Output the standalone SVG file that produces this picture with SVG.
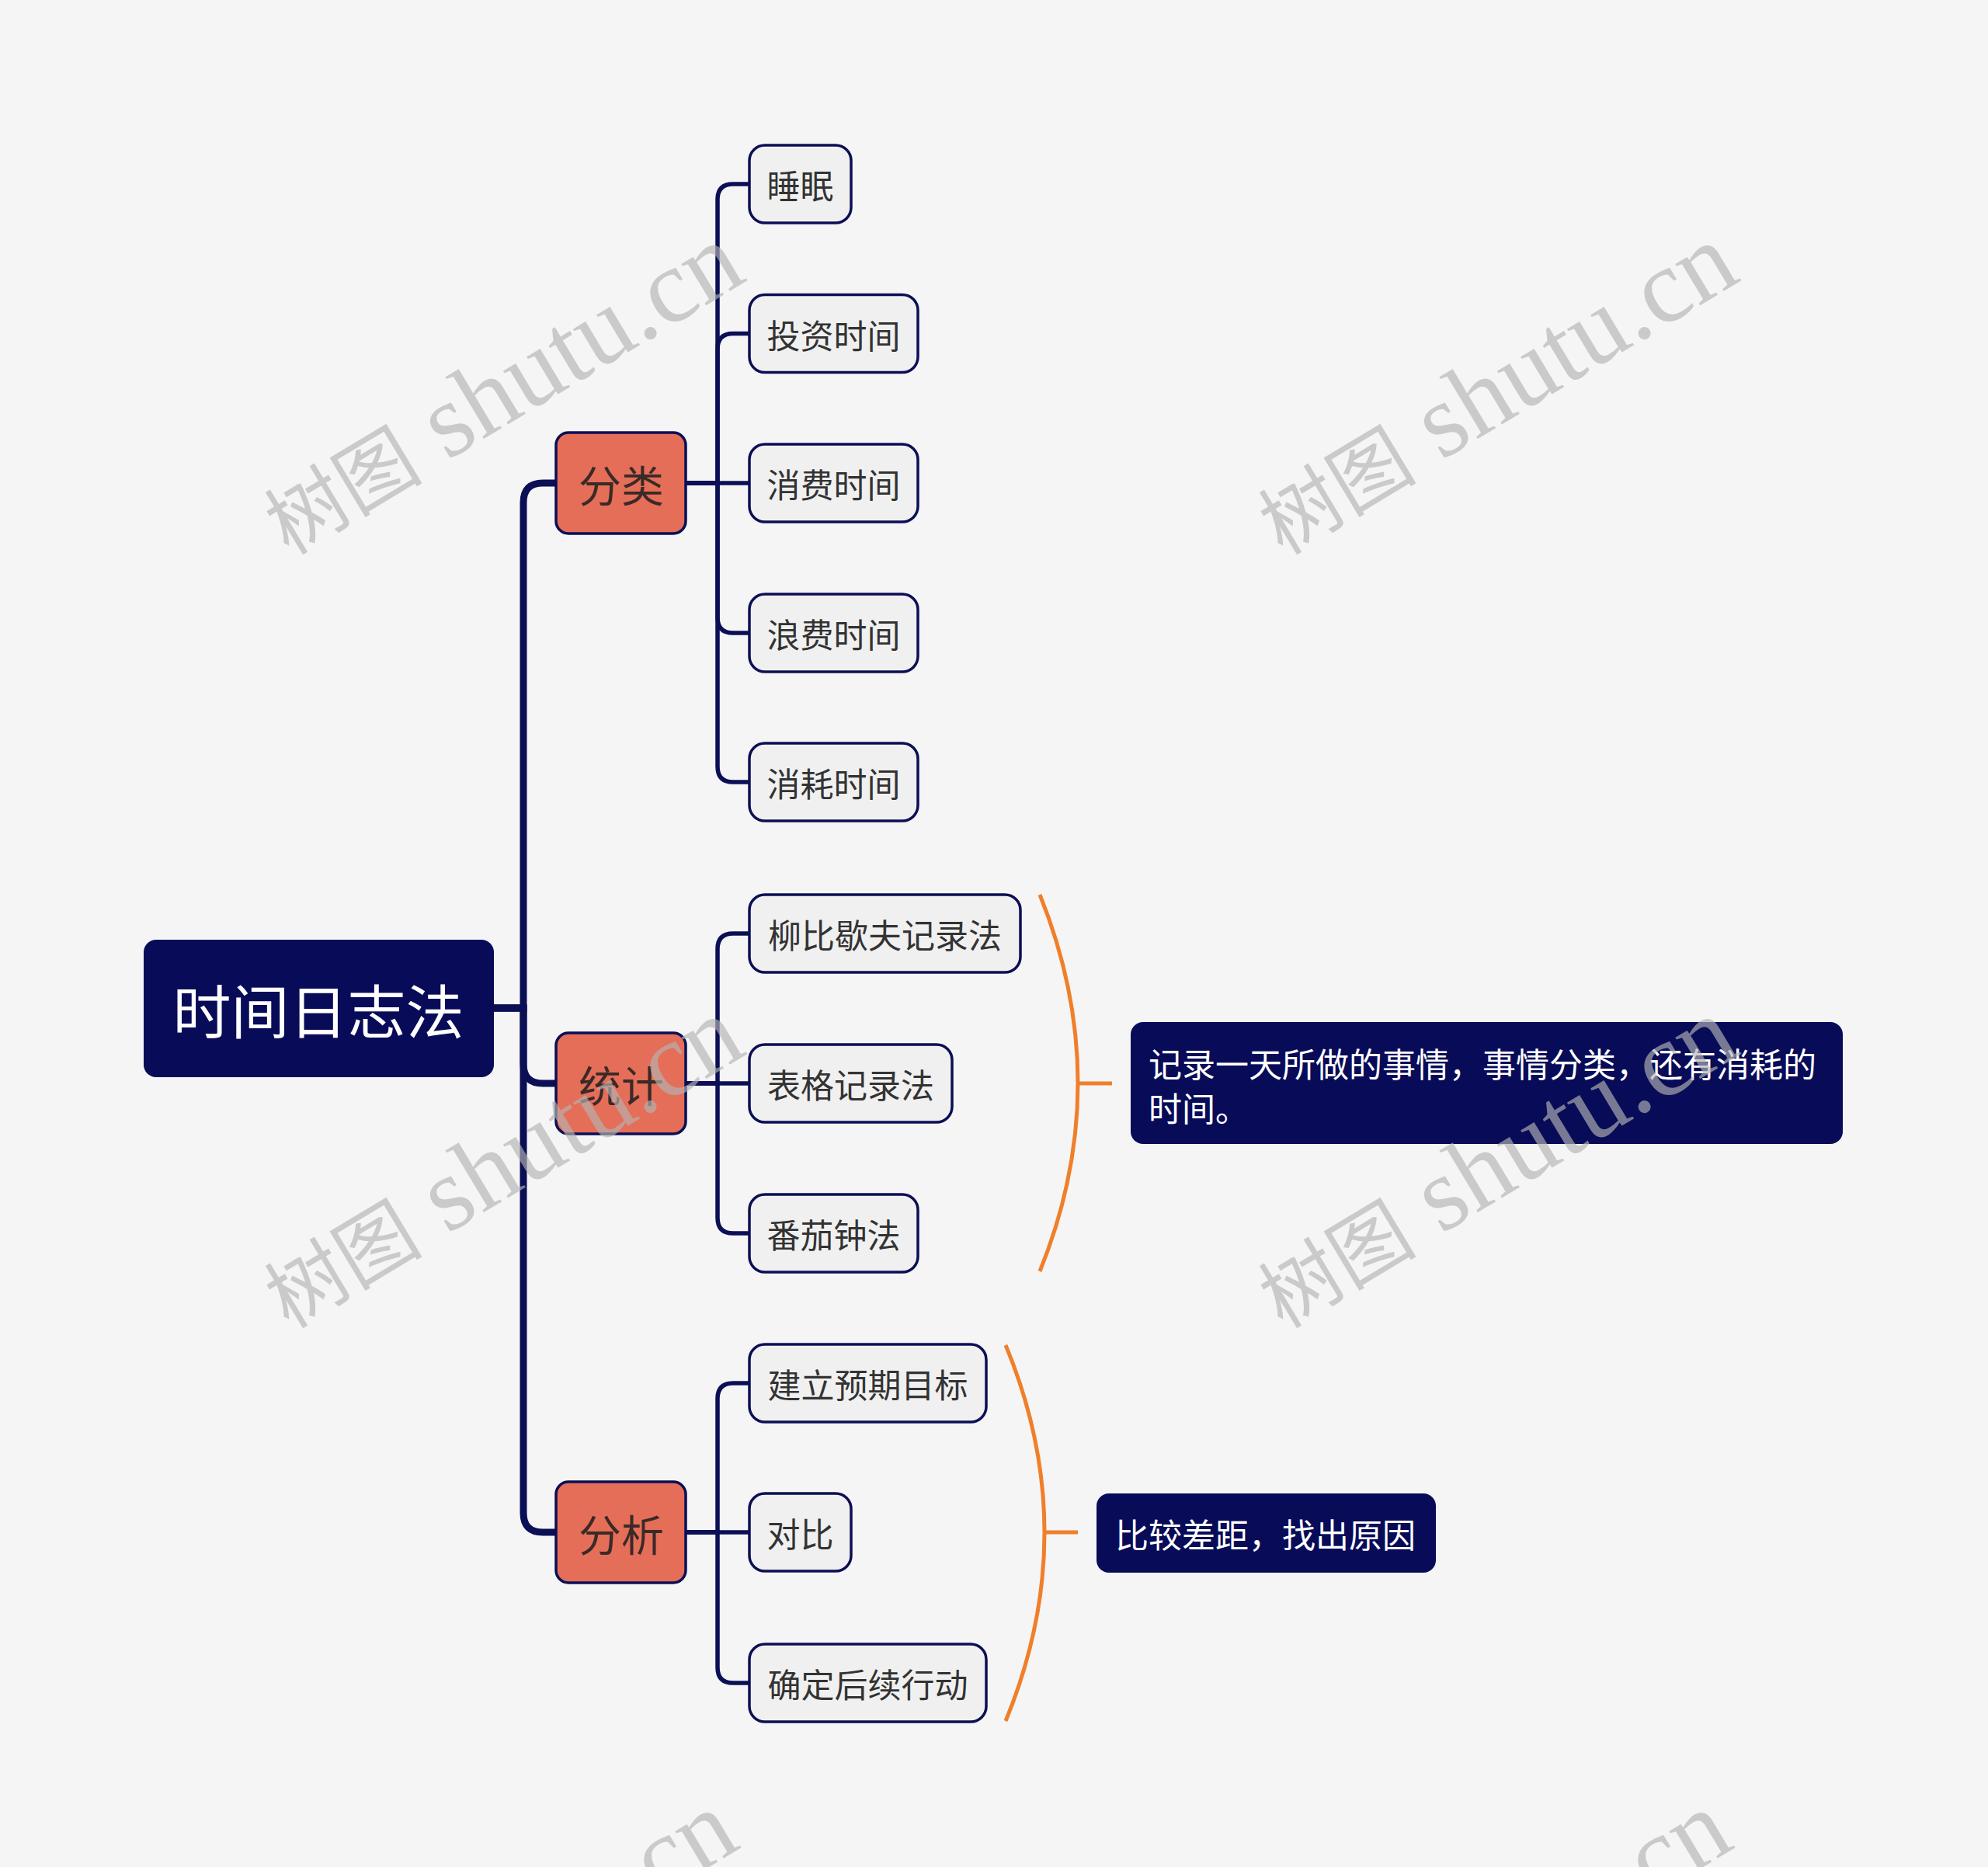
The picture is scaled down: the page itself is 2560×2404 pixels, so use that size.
<svg xmlns="http://www.w3.org/2000/svg" width="2560" height="2404" viewBox="0 0 2560 2404">
<style>
text{font-family:"Noto Sans CJK SC","Noto Sans",sans-serif;dominant-baseline:central}
.root rect{fill:#080C58}
.root text{fill:#fff;font-size:75px;text-anchor:middle}
.l1 rect{fill:#E56E58;stroke:#0B0F55;stroke-width:3.5}
.l1 text{fill:#3A2A28;font-size:55px;text-anchor:middle}
.l2 rect{fill:#F0F0F0;stroke:#0B0F55;stroke-width:3.5}
.l2 text{fill:#333;font-size:43px;text-anchor:middle}
.sum rect{fill:#080C58}
.sum text{fill:#fff;font-size:43px}
.main{fill:none;stroke:#0B0F55;stroke-width:9}
.sub{fill:none;stroke:#0B0F55;stroke-width:5.5}
.brace{fill:none;stroke:#F07F2A;stroke-width:5}
.wm text{font-family:"Liberation Serif","Noto Sans CJK SC",serif;font-size:135px;fill:#b4b4b4;opacity:.65;text-anchor:middle;dominant-baseline:auto}
.wm .c{font-family:"Noto Sans CJK SC",serif;font-size:102px}
</style>
<rect width="2560" height="2404" fill="#F5F5F5"/>
<g id="connectors">
<path class="main" d="M636 1298H674V647Q674 622 699 622H716"/>
<path class="main" d="M636 1298H674V1370Q674 1395 699 1395H716"/>
<path class="main" d="M636 1298H674V1948Q674 1973 699 1973H716"/>
<path class="sub" d="M883 622H924V257Q924 237 944 237H965"/>
<path class="sub" d="M883 622H924V449.5Q924 429.5 944 429.5H965"/>
<path class="sub" d="M883 622H965"/>
<path class="sub" d="M883 622H924V795Q924 815 944 815H965"/>
<path class="sub" d="M883 622H924V987Q924 1007 944 1007H965"/>
<path class="sub" d="M883 1395H924V1222Q924 1202 944 1202H965"/>
<path class="sub" d="M883 1395H965"/>
<path class="sub" d="M883 1395H924V1568Q924 1588 944 1588H965"/>
<path class="sub" d="M883 1973H924V1801Q924 1781 944 1781H965"/>
<path class="sub" d="M883 1973H965"/>
<path class="sub" d="M883 1973H924V2147Q924 2167 944 2167H965"/>
<path class="brace" d="M1339 1152Q1437 1395 1339 1637M1388 1395H1432"/>
<path class="brace" d="M1295 1732Q1395 1973 1295 2216M1345 1973H1388"/>
</g>
<g id="root" class="root"><rect x="185" y="1210" width="451" height="177" rx="16"/><text x="410" y="1298">时间日志法</text></g>
<g id="fenlei" class="l1"><rect x="716" y="557" width="167" height="130" rx="16"/><text x="800" y="622">分类</text></g>
<g id="tongji" class="l1"><rect x="716" y="1330" width="167" height="130" rx="16"/><text x="800" y="1395">统计</text></g>
<g id="fenxi" class="l1"><rect x="716" y="1908" width="167" height="130" rx="16"/><text x="800" y="1973">分析</text></g>
<g id="shuimian" class="l2"><rect x="965" y="187" width="131" height="100" rx="20"/><text x="1030.5" y="237">睡眠</text></g>
<g id="touzi" class="l2"><rect x="965" y="379.5" width="217" height="100" rx="20"/><text x="1073.5" y="429.5">投资时间</text></g>
<g id="xiaofei" class="l2"><rect x="965" y="572" width="217" height="100" rx="20"/><text x="1073.5" y="622">消费时间</text></g>
<g id="langfei" class="l2"><rect x="965" y="765" width="217" height="100" rx="20"/><text x="1073.5" y="815">浪费时间</text></g>
<g id="xiaohao" class="l2"><rect x="965" y="957" width="217" height="100" rx="20"/><text x="1073.5" y="1007">消耗时间</text></g>
<g id="liubi" class="l2"><rect x="965" y="1152" width="349" height="100" rx="20"/><text x="1139.5" y="1202">柳比歇夫记录法</text></g>
<g id="biaoge" class="l2"><rect x="965" y="1345" width="261" height="100" rx="20"/><text x="1095.5" y="1395">表格记录法</text></g>
<g id="fanqie" class="l2"><rect x="965" y="1538" width="217" height="100" rx="20"/><text x="1073.5" y="1588">番茄钟法</text></g>
<g id="jianli" class="l2"><rect x="965" y="1731" width="305" height="100" rx="20"/><text x="1117.5" y="1781">建立预期目标</text></g>
<g id="duibi" class="l2"><rect x="965" y="1923" width="131" height="100" rx="20"/><text x="1030.5" y="1973">对比</text></g>
<g id="queding" class="l2"><rect x="965" y="2117" width="305" height="100" rx="20"/><text x="1117.5" y="2167">确定后续行动</text></g>
<g id="summary1" class="sum"><rect x="1456" y="1316" width="917" height="157" rx="16"/><text x="1479" y="1368">记录一天所做的事情，事情分类，还有消耗的</text><text x="1479" y="1425">时间。</text></g>
<g id="summary2" class="sum"><rect x="1412" y="1923" width="437" height="102" rx="16"/><text x="1436" y="1974">比较差距，找出原因</text></g>
<g class="wm">
<text transform="translate(668 538) rotate(-31)"><tspan class="c">树图</tspan> shutu.cn</text>
<text transform="translate(1948 538) rotate(-31)"><tspan class="c">树图</tspan> shutu.cn</text>
<text transform="translate(668 1534) rotate(-31)"><tspan class="c">树图</tspan> shutu.cn</text>
<text transform="translate(1948 1534) rotate(-31)"><tspan class="c">树图</tspan> shutu.cn</text>
<text transform="translate(660 2556) rotate(-31)"><tspan class="c">树图</tspan> shutu.cn</text>
<text transform="translate(1940 2556) rotate(-31)"><tspan class="c">树图</tspan> shutu.cn</text>
</g>
</svg>
